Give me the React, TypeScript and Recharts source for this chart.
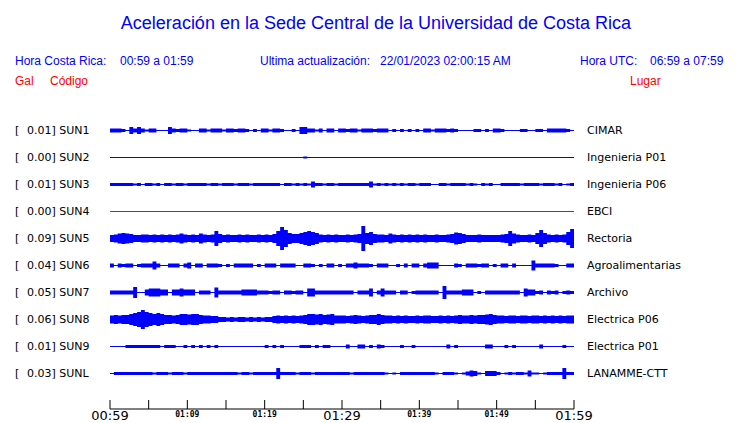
import React from 'react';
import { ComposedChart, Area, XAxis, YAxis } from 'recharts';

// one amplitude value per half minute (120 per trace), in px of the original plot
const codes = ['SUN1', 'SUN2', 'SUN3', 'SUN4', 'SUN5', 'SUN6', 'SUN7', 'SUN8', 'SUN9', 'SUNL'];
const peaks = ['0.01', '0.00', '0.01', '0.00', '0.09', '0.04', '0.05', '0.06', '0.01', '0.03'];
const places = [
  'CIMAR', 'Ingenieria P01', 'Ingenieria P06', 'EBCI', 'Rectoria',
  'Agroalimentarias', 'Archivo', 'Electrica P06', 'Electrica P01', 'LANAMME-CTT',
];
const traceColors = ['#0000ff', '#0000ff', '#0000ff', '#ff0000', '#0000ff', '#0000ff', '#0000ff', '#0000ff', '#0000ff', '#0000ff'];

const sun1 = [
  1.5, 1.5, 1.5, 1, 0, 3, 1.5, 3, 1.5, 0.5, 1.5, 1.5, 0, 0, 0, 3, 1.5, 1, 1.5, 1.5,
  0.5, 0, 0, 1.5, 1.5, 0.5, 1.5, 1.5, 1.5, 0.5, 1.5, 1.5, 1, 1.5, 1.5, 1, 0, 1, 0, 1.5,
  1.5, 0.5, 1.5, 1.5, 1, 0, 0, 1, 0, 3, 3, 1.5, 1.5, 0.5, 1.5, 0, 1.5, 1.5, 0, 1.5,
  1.5, 1, 1.5, 1.5, 0.5, 1.5, 1.5, 1.5, 1, 1.5, 1.5, 1.5, 0, 1, 0, 1, 0, 1, 0, 1,
  0, 1.5, 1.5, 0.5, 1.5, 1.5, 1.5, 1, 1.5, 1, 0, 0, 0, 0, 1, 1, 0, 1, 0, 1.5,
  1.5, 1, 0, 0, 0, 0, 1, 1, 0, 0, 1, 1, 0, 1.5, 1.5, 1.5, 1.5, 1.5, 1, 0,
];
const sun2 = [
  0, 0, 0, 0, 0, 0, 0, 0, 0, 0, 0, 0, 0, 0, 0, 0, 0, 0, 0, 0,
  0, 0, 0, 0, 0, 0, 0, 0, 0, 0, 0, 0, 0, 0, 0, 0, 0, 0, 0, 0,
  0, 0, 0, 0, 0, 0, 0, 0, 0, 0, 0.5, 0, 0, 0, 0, 0, 0, 0, 0, 0,
  0, 0, 0, 0, 0, 0, 0, 0, 0, 0, 0, 0, 0, 0, 0, 0, 0, 0, 0, 0,
  0, 0, 0, 0, 0, 0, 0, 0, 0, 0, 0, 0, 0, 0, 0, 0, 0, 0, 0, 0,
  0, 0, 0, 0, 0, 0, 0, 0, 0, 0, 0, 0, 0, 0, 0, 0, 0, 0, 0, 0,
];
const sun3 = [
  1, 1, 1, 1, 1, 1, 0.5, 1, 0, 1, 1, 0.5, 1, 0, 1, 1, 0.5, 1, 1, 0.5,
  1, 1, 1, 1, 1, 0.5, 1, 1, 0.5, 1, 1, 1, 0.5, 1, 1, 1, 0.5, 1, 1, 1,
  1, 1, 1, 1, 0, 1, 1, 0.5, 1, 0.5, 1, 0.5, 2.5, 1, 1, 0.5, 1, 1, 0.5, 1,
  1, 1, 1, 1, 1, 1, 1, 2.5, 0.5, 1, 0.5, 1, 0.5, 1, 0.5, 1, 0.5, 1, 1, 0.5,
  1, 1, 1, 0, 0, 1, 1, 0.5, 1, 1, 1, 1, 0.5, 1, 0.5, 0, 1, 0.5, 1, 0,
  0, 1, 1, 1, 1, 1, 0.5, 1, 1, 1, 1, 0.5, 1, 1, 1, 0.5, 1, 0, 0.5, 1,
];
const sun4 = [
  0, 0, 0, 0, 0, 0, 0, 0, 0, 0, 0, 0, 0, 0, 0, 0, 0, 0, 0, 0,
  0, 0, 0, 0, 0, 0, 0, 0, 0, 0, 0, 0, 0, 0, 0, 0, 0, 0, 0, 0,
  0, 0, 0, 0, 0, 0, 0, 0, 0, 0, 0, 0, 0, 0, 0, 0, 0, 0, 0, 0,
  0, 0, 0, 0, 0, 0, 0, 0, 0, 0, 0, 0, 0, 0, 0, 0, 0, 0, 0, 0,
  0, 0, 0, 0, 0, 0, 0, 0, 0, 0, 0, 0, 0, 0, 0, 0, 0, 0, 0, 0,
  0, 0, 0, 0, 0, 0, 0, 0, 0, 0, 0, 0, 0, 0, 0, 0, 0, 0, 0, 0,
];
const sun5 = [
  3, 3.5, 4.5, 5, 4.5, 4, 3, 3, 3.5, 3.5, 3, 3.5, 3, 3.5, 3, 3.5, 3, 3.5, 4.5, 3.5,
  3, 3.5, 3, 4.5, 3.5, 3, 3.5, 7, 4, 3, 3.5, 3, 3, 3.5, 3, 3.5, 3, 3, 3.5, 3,
  3.5, 3, 4, 7, 11, 8, 5, 4, 4, 5, 6, 7, 6, 5, 3.5, 3, 3.5, 3, 3.5, 3,
  3, 3.5, 3, 3.5, 4, 12, 5, 6, 4, 3.5, 3.5, 3, 4.5, 3.5, 3, 3.5, 3, 3.5, 3, 3.5,
  3, 3.5, 3, 3, 3.5, 3, 3, 3.5, 4, 5.5, 5, 4, 3, 3, 3, 3.5, 3, 3, 3, 3,
  3, 3.5, 4, 7, 4.5, 3.5, 3, 3, 3.5, 3, 5, 8, 5, 3.5, 3, 3.5, 3, 3.5, 6, 9,
];
const sun6 = [
  1.5, 0, 1.5, 1, 1.5, 1.5, 0, 1, 1.5, 1.5, 1.5, 3.5, 1.5, 0, 0, 1.5, 1.5, 1.5, 0, 1.5,
  2.5, 0, 1.5, 1.5, 0, 1.5, 1.5, 1.5, 1, 0, 1, 0, 1.5, 1.5, 1.5, 1.5, 1.5, 0, 1, 0,
  1.5, 1.5, 1.5, 0, 1.5, 1.5, 1.5, 1.5, 0, 0, 1.5, 1.5, 1, 0, 1, 0, 1.5, 1.5, 0, 1,
  0, 1.5, 1.5, 2.5, 1.5, 1.5, 1.5, 1, 0, 1.5, 1.5, 1.5, 0, 0, 1, 0, 1.5, 0, 1.5, 1.5,
  0, 1.5, 2.5, 2.5, 2.5, 0, 0, 0, 0, 1.5, 1, 0, 1.5, 1.5, 1.5, 1, 1.5, 1.5, 0, 1,
  0, 1.5, 1.5, 0, 1.5, 0, 0, 0, 0, 4.5, 1.5, 1.5, 1.5, 1.5, 1.5, 1, 0, 0, 1.5, 1.5,
];
const sun7 = [
  1.5, 1.5, 1.5, 1.5, 1.5, 1.5, 5, 0, 0, 2.5, 3.5, 3.5, 3.5, 2.5, 2.5, 0, 2.5, 2.5, 3.5, 2.5,
  2.5, 2.5, 0, 1.5, 1.5, 1.5, 0, 4.5, 1.5, 1.5, 1.5, 1.5, 1.5, 1.5, 2.5, 2.5, 2.5, 2.5, 1.5, 1.5,
  1.5, 1, 1.5, 1.5, 0, 1.5, 1.5, 1, 1.5, 1.5, 0, 3.5, 3.5, 1.5, 1.5, 1.5, 1.5, 1.5, 1.5, 1.5,
  1.5, 1.5, 1.5, 0, 1.5, 1.5, 1.5, 3.5, 0, 1.5, 3.5, 1.5, 1.5, 1.5, 0, 1.5, 1.5, 0, 1, 1.5,
  1.5, 1.5, 1.5, 1.5, 1.5, 0, 6, 1.5, 1.5, 1.5, 1.5, 2.5, 2.5, 2.5, 0, 1, 0, 1.5, 1.5, 1.5,
  1.5, 1.5, 1.5, 1.5, 1.5, 1.5, 0, 3.5, 2.5, 2.5, 1, 1.5, 0, 1.5, 1, 1.5, 0, 1, 1.5, 1,
];
const sun8 = [
  3.5, 4, 3.5, 4, 4, 5, 6, 7, 9, 7, 6, 5, 6, 5, 4, 4, 3.5, 4, 5, 5,
  4.5, 5, 5, 4, 3.5, 3.5, 3, 3, 2, 2, 1.5, 2, 1.5, 2, 2, 1.5, 2, 1.5, 2, 1.5,
  2, 2, 3, 3.5, 3, 3.5, 3, 3.5, 3, 3.5, 4, 5, 5, 4.5, 5, 4, 4.5, 5, 3.5, 3.5,
  3.5, 3, 3.5, 4, 3.5, 3, 3.5, 4, 4, 5, 4, 3.5, 3.5, 3, 3.5, 3, 3.5, 3, 3, 3.5,
  3, 3.5, 3.5, 3, 3, 3.5, 3, 3.5, 3, 3.5, 4, 3.5, 3.5, 4, 3.5, 4, 4, 4.5, 5, 4,
  3.5, 3.5, 3, 3.5, 3.5, 3, 3.5, 3.5, 3, 3.5, 3.5, 3, 3.5, 3, 3.5, 3, 3.5, 3, 3.5, 3.5,
];
const sun9 = [
  0, 0, 0, 0, 1, 1, 1, 1, 1, 1, 1, 1, 1, 0, 1, 1, 1, 0, 0, 1,
  0, 1, 0, 1, 0, 1, 0, 1, 0, 0, 0, 0, 0, 0, 0, 0, 0, 0, 0, 0,
  1, 0, 1, 0, 1, 0, 0, 0, 0, 1, 1, 1, 0, 1, 0, 1, 1, 0, 0, 0,
  0, 1.5, 0, 0, 1.5, 1.5, 0, 1, 0, 1.5, 1, 0, 0, 0, 0, 1, 0, 0, 1, 0,
  0, 0, 0, 0, 0, 0, 0, 1.5, 0, 1, 0, 0, 0, 0, 0, 0, 0, 1.5, 1.5, 0,
  0, 0, 1, 0, 1, 0, 0, 0, 0, 0, 0, 1.5, 0, 0, 0, 0, 0, 1, 0, 0,
];
const sunL = [
  0, 1, 1, 1, 1, 1, 1, 1, 1, 1, 1, 0.5, 1, 1, 1, 0.5, 1, 1, 1, 0.5,
  1, 1, 1, 1, 1, 1, 1, 1, 1, 1, 1, 1, 1, 0.5, 1, 1, 0.5, 1, 1, 1,
  1, 1, 1, 5, 1, 1, 1, 1, 0.5, 1, 1, 1, 0.5, 1, 1, 1, 1, 1, 1, 1,
  1, 1, 0.5, 1, 1, 1, 1, 1, 1, 1, 1, 0.5, 0, 0.5, 0, 1, 1, 1, 1, 1,
  1, 1, 1, 1, 0.5, 0, 1, 1, 1, 0.5, 0, 0.5, 1.5, 2.5, 2, 0.5, 0, 2, 2, 2,
  1, 0, 0.5, 1, 0.5, 1, 1, 0.5, 2.5, 0.5, 0.5, 0, 0.5, 1, 1, 1, 1, 5, 1, 1,
];
const amplitudes = [sun1, sun2, sun3, sun4, sun5, sun6, sun7, sun8, sun9, sunL];

const xTicks = [0, 5, 10, 15, 20, 25, 30, 35, 40, 45, 50, 55, 60];
const tickLabels: Record<number, string> = {
  0: '00:59', 10: '01:09', 20: '01:19', 30: '01:29', 40: '01:39', 50: '01:49', 60: '01:59',
};
const bigTicks = [0, 30, 60];

// layout
const W = 740;
const H = 423;
const PLOT_TOP = 116;
const PLOT_BOTTOM = 409;
const ROW0 = 130.5;
const ROW_GAP = 27;
const STEP = 0.5; // minutes per sample

const table = Array.from({ length: sun1.length + 1 }, (_, i) => {
  const row: Record<string, number | number[]> = { t: i * STEP };
  codes.forEach((code, k) => {
    const amp = amplitudes[k][Math.min(i, amplitudes[k].length - 1)];
    const c = ROW0 + k * ROW_GAP;
    row[code] = [c - amp - 0.5, c + amp + 0.5];
  });
  return row;
});

const sans = '"Liberation Sans", Arial, sans-serif';
const dejavu = '"DejaVu Sans", sans-serif';

function TimeTick(props: any) {
  const { x, y, payload } = props;
  const v = payload.value as number;
  const label = tickLabels[v];
  const big = bigTicks.includes(v);
  return (
    <g>
      <line x1={x} x2={x} y1={y - 9} y2={y} stroke="#000" strokeWidth={1} />
      {label && (
        <text
          x={x}
          y={big ? y + 11 : y + 8}
          textAnchor="middle"
          fill="#000"
          fontSize={big ? 13 : 8}
          fontWeight={big ? 'normal' : 'bold'}
          fontFamily={big ? dejavu : '"DejaVu Sans Mono", monospace'}
        >
          {label}
        </text>
      )}
    </g>
  );
}

export default function App() {
  return (
    <div style={{ position: 'absolute', left: 0, top: 0, width: W, height: H, background: '#fff' }}>
      <ComposedChart
        width={W}
        height={H}
        data={table}
        margin={{ top: PLOT_TOP, right: W - 574, bottom: 0, left: 110 }}
      >
        <XAxis
          dataKey="t"
          type="number"
          domain={[0, 60]}
          ticks={xTicks}
          height={H - PLOT_BOTTOM}
          tickSize={0}
          tickMargin={0}
          tick={<TimeTick />}
          axisLine={{ stroke: '#000' }}
          tickLine={false}
          interval={0}
        />
        <YAxis hide type="number" domain={[PLOT_TOP, PLOT_BOTTOM]} reversed allowDataOverflow />
        {codes.map((code, k) => (
          <Area
            key={code}
            dataKey={code}
            type="stepAfter"
            stroke="none"
            fill={traceColors[k]}
            fillOpacity={1}
            dot={false}
            activeDot={false}
            isAnimationActive={false}
          />
        ))}
      </ComposedChart>
      <svg width={W} height={H} style={{ position: 'absolute', left: 0, top: 0, pointerEvents: 'none' }}>
        <text x={376} y={29} textAnchor="middle" fill="#0000ff" fontSize={18} fontFamily={sans}>
          Aceleración en la Sede Central de la Universidad de Costa Rica
        </text>
        <g fill="#0000ff" fontSize={12} fontFamily={sans}>
          <text x={15} y={65}>Hora Costa Rica:</text>
          <text x={120} y={65}>00:59 a 01:59</text>
          <text x={260} y={65}>Ultima actualización:</text>
          <text x={380} y={65}>22/01/2023 02:00:15 AM</text>
          <text x={580} y={65}>Hora UTC:</text>
          <text x={650} y={65}>06:59 a 07:59</text>
        </g>
        <g fill="#ff0000" fontSize={12} fontFamily={sans}>
          <text x={15} y={85}>Gal</text>
          <text x={50} y={85}>Código</text>
          <text x={630} y={85}>Lugar</text>
        </g>
        <g fill="#000" fontSize={11} fontFamily={dejavu}>
          {codes.map((code, k) => {
            const y = 134 + k * ROW_GAP;
            return (
              <g key={code}>
                <text x={15} y={y}>[</text>
                <text x={27} y={y}>{`${peaks[k]}] ${code}`}</text>
                <text x={587} y={y}>{places[k]}</text>
              </g>
            );
          })}
        </g>
      </svg>
    </div>
  );
}
